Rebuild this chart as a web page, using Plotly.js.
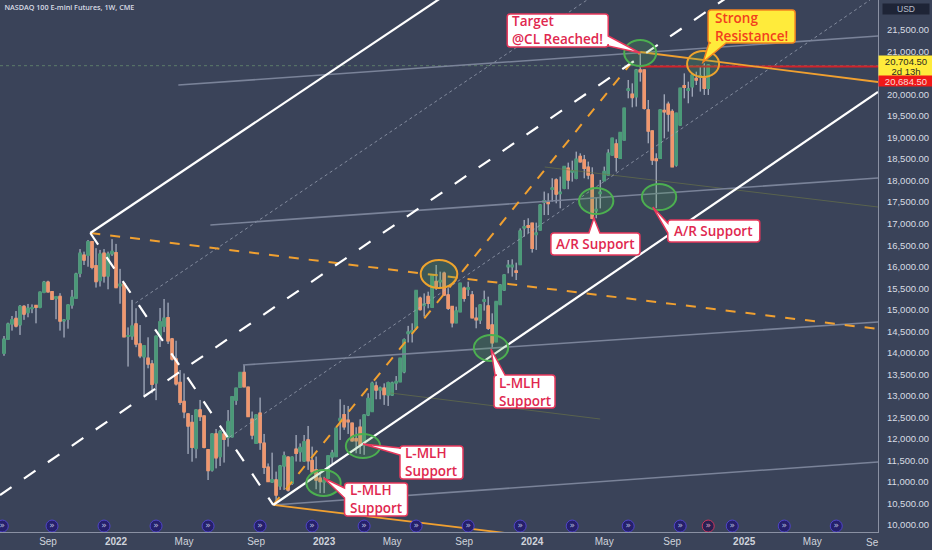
<!DOCTYPE html>
<html><head><meta charset="utf-8">
<script src="https://cdn.plot.ly/plotly-3.0.1.min.js"></script>
<style>html,body{margin:0;padding:0;background:#3a4359}</style></head>
<body><div id="chart" style="width:932px;height:550px"></div>
<script>
const weeks = [
'2021-06-21','2021-06-28','2021-07-05','2021-07-12','2021-07-19','2021-07-26','2021-08-02','2021-08-09','2021-08-16','2021-08-23','2021-08-30','2021-09-06','2021-09-13','2021-09-20','2021-09-27','2021-10-04','2021-10-11','2021-10-18','2021-10-25','2021-11-01','2021-11-08','2021-11-15','2021-11-22','2021-11-29','2021-12-06','2021-12-13','2021-12-20','2021-12-27',
'2022-01-03','2022-01-10','2022-01-17','2022-01-24','2022-01-31','2022-02-07','2022-02-14','2022-02-21','2022-02-28','2022-03-07','2022-03-14','2022-03-21','2022-03-28','2022-04-04','2022-04-11','2022-04-18','2022-04-25','2022-05-02','2022-05-09','2022-05-16','2022-05-23','2022-05-30','2022-06-06','2022-06-13','2022-06-20','2022-06-27','2022-07-04','2022-07-11','2022-07-18','2022-07-25','2022-08-01','2022-08-08','2022-08-15','2022-08-22','2022-08-29','2022-09-05','2022-09-12','2022-09-19','2022-09-26','2022-10-03','2022-10-10','2022-10-17','2022-10-24','2022-10-31','2022-11-07','2022-11-14','2022-11-21','2022-11-28','2022-12-05','2022-12-12','2022-12-19','2022-12-26',
'2023-01-02','2023-01-09','2023-01-16','2023-01-23','2023-01-30','2023-02-06','2023-02-13','2023-02-20','2023-02-27','2023-03-06','2023-03-13','2023-03-20','2023-03-27','2023-04-03','2023-04-10','2023-04-17','2023-04-24','2023-05-01','2023-05-08','2023-05-15','2023-05-22','2023-05-29','2023-06-05','2023-06-12','2023-06-19','2023-06-26','2023-07-03','2023-07-10','2023-07-17','2023-07-24','2023-07-31','2023-08-07','2023-08-14','2023-08-21','2023-08-28','2023-09-04','2023-09-11','2023-09-18','2023-09-25','2023-10-02','2023-10-09','2023-10-16','2023-10-23','2023-10-30','2023-11-06','2023-11-13','2023-11-20','2023-11-27','2023-12-04','2023-12-11','2023-12-18','2023-12-25',
'2024-01-01','2024-01-08','2024-01-15','2024-01-22','2024-01-29','2024-02-05','2024-02-12','2024-02-19','2024-02-26','2024-03-04','2024-03-11','2024-03-18','2024-03-25','2024-04-01','2024-04-08','2024-04-15','2024-04-22','2024-04-29','2024-05-06','2024-05-13','2024-05-20','2024-05-27','2024-06-03','2024-06-10','2024-06-17','2024-06-24','2024-07-01','2024-07-08','2024-07-15','2024-07-22','2024-07-29','2024-08-05','2024-08-12','2024-08-19','2024-08-26','2024-09-02','2024-09-09','2024-09-16','2024-09-23','2024-09-30','2024-10-07','2024-10-14','2024-10-21','2024-10-28','2024-11-04'];

const opens = [13990,14315,14670,14795,14650,15075,14935,15030,15095,15060,15405,15640,15420,15260,15305,14745,14780,15110,15270,15850,16265,16270,16580,16020,15680,16310,15785,16300,16325,15560,15600,14385,14390,14670,14205,13910,13870,13740,13300,14390,14620,14815,14320,13855,13310,12865,12580,12380,11780,12670,12530,11745,11280,12115,11590,12115,12035,12050,12900,13200,13540,13200,12455,11898,12595,11898,11340,11000,11045,10905,11370,11575,10970,11760,11700,11490,11976,11496,11280,11085,11000,11085,11580,11590,12430,12560,12430,12365,12000,12270,11860,12555,12640,13230,13135,13175,13020,13020,13300,13330,13560,14450,14480,14569,15266,15100,15305,15057,15653,15650,15846,15343,15072,14700,14956,15498,15480,15343,14800,14763,15200,15088,14646,14260,15126,15459,16000,16000,15900,16050,16900,16950,17009,16750,16854,17500,17500,17800,18015,17700,17822,18286,18200,18054,18557,18480,18309,18131,17300,17700,18000,18132,18596,18852,18519,18945,20100,20005,19950,20570,20570,19641,19153,18500,18519,19630,19773,19602,18364,19293,20200,20100,20183,20370,20400,20377,20145];
const highs = [14390,14700,14855,14970,15110,15110,15135,15125,15095,15420,15670,15675,15420,15320,15385,14770,15110,15460,15860,16410,16350,16620,16590,16430,16390,16410,16350,16640,16530,15950,15600,14590,15230,15035,14645,14160,14360,13830,14390,15040,15250,15165,14345,14280,13600,13520,12580,12555,12670,12905,12530,11745,12115,12230,12210,12115,12670,12980,13175,13540,13715,13200,12635,12555,12960,12115,11430,11680,11240,11395,11705,11590,11595,12090,11895,12090,12300,11820,11590,11200,11120,11605,11745,12270,12920,12790,12765,12365,12270,12455,12555,13060,13330,13330,13215,13290,13330,13330,13460,13870,14335,14625,14685,15444,15304,15380,15420,15808,16040,15885,15885,15500,15072,15072,15614,15537,15653,15436,15057,15111,15444,15304,14917,15188,15591,15808,16156,16172,16094,16890,17086,17125,17009,17024,17450,17745,17706,18054,18054,18093,18325,18418,18464,18673,18634,18596,18441,18309,17600,18016,18325,18728,18983,18960,19115,19680,20338,20260,20594,20958,20570,19873,19153,18635,19641,20005,19835,19657,19564,20144,20492,20299,20454,20531,20664,20725,20700];
const lows = [13930,14300,14515,14590,14415,14765,14825,14920,14685,15035,15385,15400,15230,14780,14515,14355,14560,15025,15250,15755,16040,16000,15940,15515,15540,15630,15475,16250,15500,15140,14375,13680,14300,14130,13875,13020,13640,13060,12900,14135,14480,14205,13820,13240,12790,12480,11650,11470,11550,12415,11780,11045,11240,11315,11370,11450,11820,12035,12790,13200,13200,12520,11990,11898,11745,11185,11010,10985,10505,10815,10815,10775,10930,11475,11470,11470,11280,11200,10830,10740,10740,11085,11395,11590,11975,12210,12115,11935,11665,11650,11630,12530,12640,12920,12920,12790,12765,13005,13135,13330,13525,14240,14240,14530,14980,14840,15034,15057,15460,15500,15328,14995,14590,14700,14956,15188,15320,14801,14569,14670,14980,14530,14105,14260,15111,15444,15846,15769,15691,16040,16700,16777,16328,16390,16854,17200,17200,17512,17473,17357,17800,17800,17977,18031,18418,18054,18031,17102,17125,17355,18000,18132,18596,18209,18519,18945,19912,19703,19720,20300,19650,18867,18364,17358,18519,18983,19138,18325,18325,19293,19912,19796,19950,20222,20068,19990,19990];
const closes = [14315,14670,14765,14625,15075,14900,15035,15045,15060,15405,15640,15420,15245,15300,14740,14760,15110,15290,15830,16310,16155,16580,15990,15655,16295,15785,16295,16350,15520,15590,14375,14395,14620,14205,13930,14160,13740,13270,14385,14720,14800,14280,13855,13280,12850,12630,12300,11805,12670,12520,11805,11265,12115,11565,12170,11990,12400,12980,13175,13540,13215,12520,12090,12555,11915,11340,11010,11050,10700,11370,11605,10815,11570,11665,11800,11935,11496,11240,11045,11010,11030,11605,11670,12245,12470,12285,12400,11960,11960,11860,12555,12940,13290,13135,13180,13035,13305,13300,13330,13870,14300,14480,14510,15444,15010,15130,15150,15808,15520,15680,15343,15034,14700,14970,15614,15266,15510,14817,14770,15111,15230,14569,14236,15188,15575,15808,16030,16030,15870,16830,16930,16920,16428,16780,17435,17530,17470,17830,17690,17730,18325,18015,18230,18495,18441,18286,18131,17125,17330,17730,18209,18635,18983,18542,19115,19680,20130,19935,20570,20530,19680,19153,18480,18470,19641,19600,19548,18325,19564,20144,20170,20130,20454,20340,20430,20145,20684];

const tickDates = ['2021-09-06','2022-01-03','2022-05-02','2022-09-05','2023-01-02','2023-05-01','2023-09-04','2024-01-01','2024-05-06','2024-09-02','2025-01-06','2025-05-05'];
const tickLabels = ['Sep','<b>2022</b>','May','Sep','<b>2023</b>','May','Sep','<b>2024</b>','May','Sep','<b>2025</b>','May'];
const priceTicks = [10000,10500,11000,11500,12000,12500,13000,13500,14000,14500,15000,15500,16000,16500,17000,17500,18000,18500,19000,19500,20000,21000,21500];
const priceLabels = ['10,000.00','10,500.00','11,000.00','11,500.00','12,000.00','12,500.00','13,000.00','13,500.00','14,000.00','14,500.00','15,000.00','15,500.00','16,000.00','16,500.00','17,000.00','17,500.00','18,000.00','18,500.00','19,000.00','19,500.00','20,000.00','21,000.00','21,500.00'];

const eventDates = ['2021-06-18','2021-09-13','2021-12-13','2022-03-14','2022-06-13','2022-09-12','2022-12-12','2023-03-13','2023-06-12','2023-09-11','2023-12-11','2024-03-11','2024-06-17','2024-09-16','2024-12-16','2025-03-17','2025-06-16'];
const eventLevel = 9975;
const alertDate = ['2024-11-04'];

const lineStart = '2021-06-14', lineEnd = '2025-08-28';
const upperFork = {x:['2021-11-19','2023-08-02'], y:[16783,22312]};
const lowerFork = {x:['2022-10-05',lineEnd], y:[10465,20059]};
const medianFork = {x:[lineStart,'2024-12-03'], y:[10697,22219]};
const handleFork = {x:['2021-11-19','2022-10-05'], y:[16783,10465]};
const orangeRise = {x:['2022-10-05','2024-07-08'], y:[10465,20988]};
const orangeFall = {x:['2021-11-19',lineEnd], y:[16783,14553]};
const orangeBase = {x:['2022-10-05','2023-11-15'], y:[10465,9814]};
const orangeTop = {x:['2024-07-08',lineEnd], y:[20988,20291]};
const redLevel = {x:['2024-07-08',lineEnd], y:[20651,20651]};
const priceLine = {x:[lineStart,lineEnd], y:[20670,20670]};
const greyA = {x:['2022-04-22',lineEnd], y:[20221,21359]};
const greyB = {x:['2022-06-17',lineEnd], y:[16969,18061]};
const greyC = {x:['2022-08-13',lineEnd], y:[13717,14716]};
const greyD = {x:['2022-10-05',lineEnd], y:[10465,11464]};
const dotUpper = {x:['2022-02-06','2024-04-06'], y:[15157,22196]};
const dotLower = {x:['2022-07-21','2025-08-14'], y:[12044,22196]};
const oliveA = {x:['2023-04-28','2024-04-29'], y:[13066,12462]};
const oliveB = {x:['2024-01-23',lineEnd], y:[18316,17387]};

const greenRings = [
 ['2022-12-02','2023-01-31',10674,11278],['2023-02-09','2023-04-10',11556,12114],
 ['2023-09-21','2023-11-20',13810,14414],['2024-03-23','2024-05-22',17225,17829],
 ['2024-07-11','2024-09-09',17317,17921],['2024-06-10','2024-08-05',20663,21267]];
const orangeRings = [['2024-09-28','2024-11-23',20407,21011],['2023-06-20','2023-08-23',15506,16156]];

const notes = [
 {text:'Target<br>@CL Reached!', date:'2024-07-08', price:20965, box:[-133,-32,39,6], side:'right', tail:[17,7], fill:'#ffffff', edge:'#e8385c', ink:'#e0284f'},
 {text:'Strong<br>Resistance!', date:'2024-10-26', price:20755, box:[5,92,52,19], side:'bottom', tail:[23,6], fill:'#ffeb3b', edge:'#f5841f', ink:'#f2401e'},
 {text:'A/R Support', date:'2024-04-18', price:17132, box:[-43,46,-15,-37], side:'top', tail:[-5,6], fill:'#ffffff', edge:'#e8385c', ink:'#e0284f'},
 {text:'A/R Support', date:'2024-07-30', price:17387, box:[15,107,-13,-35], side:'left', tail:[-26,-16], fill:'#ffffff', edge:'#e8385c', ink:'#e0284f'},
 {text:'L-MLH<br>Support', date:'2023-10-21', price:14088, box:[3,64,-26,-59], side:'top', tail:[4,14], fill:'#ffffff', edge:'#e8385c', ink:'#e0284f'},
 {text:'L-MLH<br>Support', date:'2023-03-11', price:11882, box:[37,100,-2,-35], side:'left', tail:[-11,-4], fill:'#ffffff', edge:'#e8385c', ink:'#e0284f'},
 {text:'L-MLH<br>Support', date:'2023-01-01', price:11092, box:[21,84,-5,-38], side:'left', tail:[-20,-10], fill:'#ffffff', edge:'#e8385c', ink:'#e0284f'}
];

const bodyHigh = opens.map((o,i)=>Math.max(o,closes[i]));
const bodyLow = opens.map((o,i)=>Math.min(o,closes[i]));
const WICK='#c4ccdb', UP='#4b9a78', DOWN='#f0976e';

function line(d,color,width,dash){
  return {type:'scatter',mode:'lines',x:d.x,y:d.y,line:{color,width,dash:dash||'solid'},hoverinfo:'skip',showlegend:false};
}
const traces = [
 {type:'candlestick',x:weeks,open:opens,high:highs,low:lows,close:closes,whiskerwidth:0,
  increasing:{line:{color:WICK,width:1},fillcolor:WICK},decreasing:{line:{color:WICK,width:1},fillcolor:WICK},showlegend:false,hoverinfo:'skip'},
 {type:'candlestick',x:weeks,open:opens,high:bodyHigh,low:bodyLow,close:closes,whiskerwidth:0,
  increasing:{line:{color:UP,width:1.6},fillcolor:UP},decreasing:{line:{color:DOWN,width:1.6},fillcolor:DOWN},showlegend:false,hoverinfo:'skip'},
 line(priceLine,'rgba(120,170,120,0.55)',1,'dot'),
 line(oliveA,'rgba(110,120,70,0.6)',1),
 line(oliveB,'rgba(110,120,70,0.6)',1),
 line(dotUpper,'rgba(170,178,195,0.65)',1,'dot'),
 line(dotLower,'rgba(170,178,195,0.65)',1,'dot'),
 line(greyA,'#7a8399',1.6),line(greyB,'#7a8399',1.6),line(greyC,'#7a8399',1.6),line(greyD,'#7a8399',1.6),
 line(orangeRise,'#f0a030',2,'10px,10px'),
 line(orangeFall,'#f0a030',2,'10px,10px'),
 line(orangeBase,'#f0a030',1.8),
 line(redLevel,'#d3222a',2),
 line(orangeTop,'#f0a030',1.8),
 line(upperFork,'#ffffff',2.2),
 line(lowerFork,'#ffffff',2.2),
 line(medianFork,'#ffffff',2.2,'14px,15px'),
 line(handleFork,'#ffffff',2.2,'14px,15px'),
 {type:'scatter',mode:'markers+text',x:eventDates,y:eventDates.map(()=>eventLevel),text:eventDates.map(()=>'»'),textposition:'middle center',
  textfont:{size:9,color:'#b7bedc',family:'DejaVu Sans'},marker:{size:12,color:'#25206c',line:{color:'#4f43c8',width:1}},showlegend:false,hoverinfo:'skip',cliponaxis:false},
 {type:'scatter',mode:'markers+text',x:alertDate,y:[eventLevel],text:['»'],textposition:'middle center',
  textfont:{size:9,color:'#d8a0c0',family:'DejaVu Sans'},marker:{size:12,color:'#2a1f50',line:{color:'#c8365c',width:1}},showlegend:false,hoverinfo:'skip',cliponaxis:false}
];

function calloutPath(n){
  const [l,r,t,b]=n.box, c=3, [p,q]=n.tail;
  let d=`M${l+c},${t}`;
  if(n.side==='top') d+=` L${p},${t} L0,0 L${q},${t}`;
  d+=` L${r-c},${t} Q${r},${t} ${r},${t-c}`;
  if(n.side==='right') d+=` L${r},${p} L0,0 L${r},${q}`;
  d+=` L${r},${b+c} Q${r},${b} ${r-c},${b}`;
  if(n.side==='bottom') d+=` L${p},${b} L0,0 L${q},${b}`;
  d+=` L${l+c},${b} Q${l},${b} ${l},${b+c}`;
  if(n.side==='left') d+=` L${l},${p} L0,0 L${l},${q}`;
  d+=` L${l},${t-c} Q${l},${t} ${l+c},${t} Z`;
  return d;
}
const ring=(r,color,fill)=>({type:'circle',xref:'x',yref:'y',x0:r[0],x1:r[1],y0:r[2],y1:r[3],line:{color,width:2},fillcolor:fill});
const shapes=[
 ...greenRings.map(r=>ring(r,'#4caf50','rgba(76,175,80,0.2)')),
 ...orangeRings.map(r=>ring(r,'#eda32e','rgba(76,175,80,0.2)')),
 ...notes.map(n=>({type:'path',xref:'x',yref:'y',xsizemode:'pixel',ysizemode:'pixel',xanchor:n.date,yanchor:n.price,path:calloutPath(n),fillcolor:n.fill,line:{color:n.edge,width:1.5}}))
];
const tagFont={family:'Liberation Sans',size:9.5,color:'#2b2b20'};
const annotations=[
 ...notes.map(n=>({xref:'x',yref:'y',x:n.date,y:n.price,xshift:(n.box[0]+n.box[1])/2,yshift:(n.box[2]+n.box[3])/2,text:n.text,showarrow:false,align:'left',xanchor:'center',yanchor:'middle',
   font:{family:'Open Sans',size:13.5,color:n.ink,weight:600}})),
 {xref:'paper',yref:'paper',x:1,y:1,xanchor:'left',yanchor:'top',xshift:4,yshift:-3,width:46,height:10,bgcolor:'#1e2436',text:'USD',align:'center',showarrow:false,borderpad:0,font:{family:'Liberation Sans',size:8.5,color:'#b8bfcc'}},
 {xref:'paper',yref:'y',x:1,y:20780,xanchor:'left',yanchor:'middle',width:54,height:10,bgcolor:'#ffeb3b',text:'20,704.50',align:'center',showarrow:false,borderpad:0,font:tagFont},
 {xref:'paper',yref:'y',x:1,y:20548,xanchor:'left',yanchor:'middle',width:54,height:10,bgcolor:'#ffeb3b',text:'2d 13h',align:'center',showarrow:false,borderpad:0,font:tagFont},
 {xref:'paper',yref:'y',x:1,y:20316,xanchor:'left',yanchor:'middle',width:54,height:10,bgcolor:'#f01818',text:'20,684.50',align:'center',showarrow:false,borderpad:0,font:{family:'Liberation Sans',size:9.5,color:'#f8d8d8'}},
 {xref:'paper',yref:'paper',x:1,y:0,xanchor:'right',yanchor:'top',yshift:-3,text:'Se',showarrow:false,xshift:3,font:{family:'Liberation Sans',size:10,color:'#d0d4dc'}}
];
const layout={
 width:932,height:550,autosize:false,margin:{l:0,r:54,t:0,b:18,pad:0},
 paper_bgcolor:'#3a4359',plot_bgcolor:'#3a4359',showlegend:false,hovermode:false,
 title:{text:'NASDAQ 100 E-mini Futures, 1W, CME',x:0.005,xref:'paper',xanchor:'left',y:0.987,yref:'container',yanchor:'middle',font:{family:'Open Sans',size:7.2,weight:600,color:'#d8dce5'}},
 xaxis:{type:'date',range:[lineStart,lineEnd],rangeslider:{visible:false},showgrid:false,zeroline:false,tickmode:'array',tickvals:tickDates,ticktext:tickLabels,ticks:'',tickangle:0,
   tickfont:{family:'Liberation Sans',size:10,color:'#d0d4dc'},showline:true,linecolor:'#8a91a3',linewidth:1},
 yaxis:{side:'right',range:[9837,22196],showgrid:false,zeroline:false,tickmode:'array',tickvals:priceTicks,ticktext:priceLabels,ticks:'outside',ticklen:6,tickcolor:'rgba(0,0,0,0)',
   tickfont:{family:'Liberation Sans',size:9.5,color:'#d8dce4'},showline:true,linecolor:'#8a91a3',linewidth:1},
 shapes,annotations
};
Plotly.newPlot('chart',traces,layout,{staticPlot:true,displayModeBar:false});
</script></body></html>
